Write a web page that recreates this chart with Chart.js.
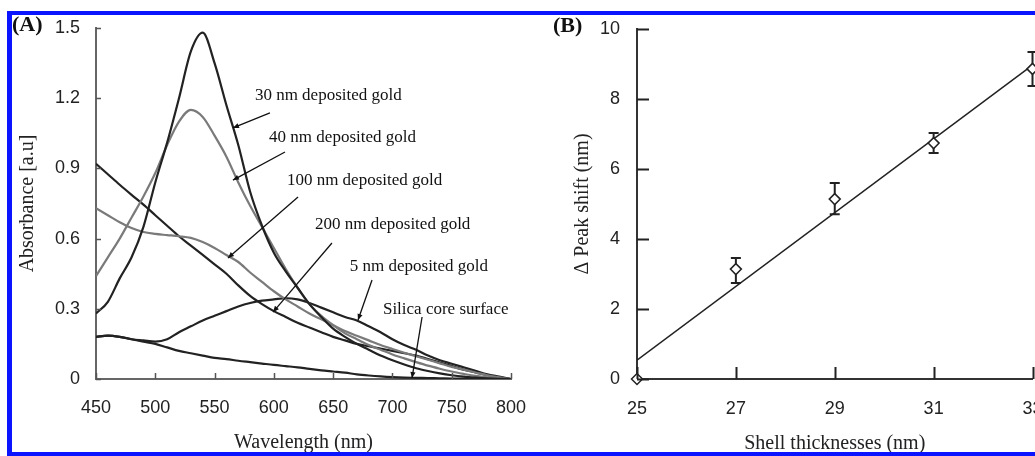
<!DOCTYPE html>
<html>
<head>
<meta charset="utf-8">
<script src="https://cdn.jsdelivr.net/npm/chart.js@4.4.1/dist/chart.umd.min.js"></script>
<style>
  html, body { margin: 0; padding: 0; width: 1035px; height: 456px; overflow: hidden; background: #fff; }
  #frame {
    position: absolute; left: 7px; top: 11px; width: 1200px; height: 445px;
    box-sizing: border-box; border: 4px solid #0a14ff; border-left-width: 5px; border-right: none;
    pointer-events: none; z-index: 5;
  }
  #chartA { position: absolute; left: 0; top: 0; }
  #chartB { position: absolute; left: 520px; top: 0; }
  .panel { position: absolute; font: bold 22px 'Liberation Serif'; line-height: 22px; color: #111; z-index: 6; }
</style>
</head>
<body>
<canvas id="chartA" width="560" height="456"></canvas>
<canvas id="chartB" width="545" height="456"></canvas>
<div id="frame"></div>
<div class="panel" style="left:12px; top:13px;">(A)</div>
<div class="panel" style="left:553px; top:14px;">(B)</div>
<script>
// --- DATA: panel A, absorbance spectra ---
const wavelengths = [450, 460, 470, 480, 490, 500, 510, 520, 530, 540, 550, 560, 570, 580, 590, 600, 610, 620,
  630, 640, 650, 660, 670, 680, 690, 700, 710, 720, 730, 740, 750, 760, 770, 780, 790, 800];

const gold30 = [0.28, 0.33, 0.43, 0.52, 0.65, 0.84, 1.01, 1.20, 1.40, 1.48, 1.35, 1.17, 1.00, 0.80, 0.655, 0.54,
  0.46, 0.39, 0.32, 0.265, 0.215, 0.18, 0.15, 0.125, 0.10, 0.08, 0.062, 0.046, 0.034, 0.024, 0.016, 0.01,
  0.006, 0.003, 0.001, 0];
const gold40 = [0.44, 0.52, 0.60, 0.69, 0.78, 0.88, 1.00, 1.10, 1.15, 1.12, 1.04, 0.95, 0.84, 0.74, 0.65, 0.56,
  0.47, 0.39, 0.32, 0.27, 0.23, 0.195, 0.17, 0.145, 0.125, 0.105, 0.088, 0.072, 0.057, 0.044, 0.032, 0.022,
  0.013, 0.007, 0.002, 0];
const gold100 = [0.73, 0.70, 0.67, 0.645, 0.628, 0.62, 0.615, 0.61, 0.603, 0.585, 0.56, 0.53, 0.50, 0.455, 0.415,
  0.375, 0.34, 0.31, 0.28, 0.255, 0.23, 0.205, 0.185, 0.165, 0.145, 0.128, 0.112, 0.097, 0.082, 0.067, 0.052,
  0.04, 0.028, 0.016, 0.007, 0];
const gold200 = [0.92, 0.875, 0.83, 0.787, 0.745, 0.70, 0.655, 0.61, 0.57, 0.53, 0.49, 0.45, 0.40, 0.355, 0.32,
  0.29, 0.265, 0.24, 0.22, 0.20, 0.18, 0.165, 0.15, 0.14, 0.13, 0.12, 0.11, 0.10, 0.085, 0.07, 0.055, 0.04,
  0.028, 0.016, 0.007, 0];
const gold5 = [0.18, 0.185, 0.18, 0.17, 0.165, 0.16, 0.17, 0.20, 0.225, 0.25, 0.27, 0.29, 0.31, 0.325, 0.335,
  0.34, 0.345, 0.34, 0.325, 0.305, 0.285, 0.265, 0.25, 0.225, 0.20, 0.17, 0.145, 0.125, 0.10, 0.08, 0.065,
  0.05, 0.035, 0.02, 0.01, 0];
const silica = [0.18, 0.185, 0.18, 0.17, 0.16, 0.15, 0.135, 0.12, 0.11, 0.10, 0.09, 0.085, 0.078, 0.072, 0.066,
  0.06, 0.055, 0.05, 0.043, 0.037, 0.032, 0.027, 0.02, 0.015, 0.011, 0.008, 0.006, 0.005, 0.004, 0.003, 0.002,
  0.002, 0.001, 0.001, 0, 0];

const ticksAX = [450, 500, 550, 600, 650, 700, 750, 800];
const ticksAY = [0, 0.3, 0.6, 0.9, 1.2, 1.5];
const labelsAY = ['0', '0.3', '0.6', '0.9', '1.2', '1.5'];

// callouts: text anchor [nm, absorbance], arrow start and arrow tip
const calloutText = ['30 nm deposited gold', '40 nm deposited gold', '100 nm deposited gold',
  '200 nm deposited gold', '5 nm deposited gold', 'Silica core surface'];
const calloutAt = [[584, 1.21], [596, 1.03], [611, 0.85], [634.7, 0.662], [664, 0.479], [692, 0.295]];
const arrowFrom = [[596.7, 1.137], [609.4, 0.97], [620.4, 0.778], [649, 0.581], [682.8, 0.423], [725, 0.265]];
const arrowTo = [[565.5, 1.073], [565.5, 0.85], [561.3, 0.517], [599.3, 0.286], [671, 0.252], [716.5, 0.004]];

// --- DATA: panel B, peak shift vs shell thickness ---
const shellThickness = [25, 27, 29, 31, 33];
const peakShift = [0, 3.14, 5.14, 6.74, 8.86];
const errLow = [0, 2.74, 4.71, 6.46, 8.37];
const errHigh = [0, 3.46, 5.6, 7.03, 9.34];
const fitX = [25, 33];
const fitY = [0.54, 8.97];
const ticksBX = [25, 27, 29, 31, 33];
const ticksBY = [0, 2, 4, 6, 8, 10];

const DARK = '#222';
const GREY = '#7a7a7a';
const SANS = "'Liberation Sans', Arial, sans-serif";
const SERIF = "'Liberation Serif', 'Times New Roman', serif";

// inward tick marks on both axes
const innerTicks = {
  id: 'innerTicks',
  afterDatasetsDraw(chart, args, opts) {
    const { ctx, chartArea, scales: { x, y } } = chart;
    ctx.save();
    ctx.strokeStyle = opts.color;
    ctx.lineWidth = opts.width;
    ctx.beginPath();
    x.ticks.forEach(t => {
      const px = Math.round(x.getPixelForValue(t.value)) + 0.5;
      ctx.moveTo(px, chartArea.bottom);
      ctx.lineTo(px, chartArea.bottom - opts.x);
    });
    y.ticks.forEach(t => {
      const py = Math.round(y.getPixelForValue(t.value)) + 0.5;
      ctx.moveTo(chartArea.left, py);
      ctx.lineTo(chartArea.left + opts.y, py);
    });
    ctx.stroke();
    ctx.restore();
  }
};

// labels with arrows pointing at each curve
const callouts = {
  id: 'callouts',
  afterDatasetsDraw(chart) {
    const { ctx, scales: { x, y } } = chart;
    ctx.save();
    ctx.font = '17px ' + SERIF;
    ctx.fillStyle = '#111';
    ctx.strokeStyle = '#111';
    ctx.textAlign = 'left';
    ctx.textBaseline = 'middle';
    calloutText.forEach((txt, i) => {
      ctx.fillText(txt, x.getPixelForValue(calloutAt[i][0]), y.getPixelForValue(calloutAt[i][1]));
      const x0 = x.getPixelForValue(arrowFrom[i][0]), y0 = y.getPixelForValue(arrowFrom[i][1]);
      const x1 = x.getPixelForValue(arrowTo[i][0]), y1 = y.getPixelForValue(arrowTo[i][1]);
      ctx.lineWidth = 1.3;
      ctx.beginPath();
      ctx.moveTo(x0, y0);
      ctx.lineTo(x1, y1);
      ctx.stroke();
      const a = Math.atan2(y1 - y0, x1 - x0), L = 6, W = 2.6;
      ctx.beginPath();
      ctx.moveTo(x1, y1);
      ctx.lineTo(x1 - L * Math.cos(a) + W * Math.sin(a), y1 - L * Math.sin(a) - W * Math.cos(a));
      ctx.lineTo(x1 - L * Math.cos(a) - W * Math.sin(a), y1 - L * Math.sin(a) + W * Math.cos(a));
      ctx.closePath();
      ctx.fill();
    });
    ctx.restore();
  }
};

// vertical error bars with caps
const errorBars = {
  id: 'errorBars',
  beforeDatasetsDraw(chart) {
    const { ctx, scales: { x, y } } = chart;
    ctx.save();
    ctx.strokeStyle = DARK;
    ctx.lineWidth = 2;
    shellThickness.forEach((t, i) => {
      if (errHigh[i] === errLow[i]) return;
      const px = x.getPixelForValue(t);
      const top = y.getPixelForValue(errHigh[i]);
      const bot = y.getPixelForValue(errLow[i]);
      ctx.beginPath();
      ctx.moveTo(px, top); ctx.lineTo(px, bot);
      ctx.moveTo(px - 5, top); ctx.lineTo(px + 5, top);
      ctx.moveTo(px - 5, bot); ctx.lineTo(px + 5, bot);
      ctx.stroke();
    });
    ctx.restore();
  }
};

const toXY = (xs, ys) => xs.map((v, i) => ({ x: v, y: ys[i] }));

const spectrum = (vals, color) => ({
  data: toXY(wavelengths, vals),
  borderColor: color,
  borderWidth: 2.2,
  pointRadius: 0,
  cubicInterpolationMode: 'monotone',
  fill: false
});

new Chart(document.getElementById('chartA'), {
  type: 'line',
  data: {
    datasets: [
      spectrum(gold30, DARK),
      spectrum(gold40, GREY),
      spectrum(gold100, GREY),
      spectrum(gold200, DARK),
      spectrum(gold5, DARK),
      spectrum(silica, DARK)
    ]
  },
  plugins: [innerTicks, callouts],
  options: {
    responsive: false,
    animation: false,
    layout: { padding: { left: 0, top: 28, right: 49, bottom: 0 } },
    plugins: {
      legend: { display: false },
      tooltip: { enabled: false },
      innerTicks: { x: 6, y: 5, color: '#555', width: 1.5 }
    },
    scales: {
      x: {
        type: 'linear', min: 450, max: 800,
        afterBuildTicks: s => { s.ticks = ticksAX.map(v => ({ value: v })); },
        afterFit: s => { s.height = 77; },
        grid: { display: false, drawTicks: false },
        border: { color: '#666', width: 2 },
        ticks: { font: { family: SANS, size: 18 }, color: DARK, padding: 18, maxRotation: 0,
                 callback: v => String(v) },
        title: { display: true, text: 'Wavelength (nm)', font: { family: SERIF, size: 20 }, color: DARK,
                 padding: { top: 0, bottom: 1 } }
      },
      y: {
        type: 'linear', min: 0, max: 1.5,
        afterBuildTicks: s => { s.ticks = ticksAY.map(v => ({ value: v })); },
        afterFit: s => { s.width = 96; },
        grid: { display: false, drawTicks: false },
        border: { color: '#666', width: 2 },
        ticks: { font: { family: SANS, size: 18 }, color: DARK, padding: 16,
                 callback: (v, i) => labelsAY[i] },
        title: { display: true, text: 'Absorbance [a.u]', font: { family: SERIF, size: 20 }, color: DARK,
                 padding: { top: 16, bottom: 0 } }
      }
    }
  }
});

new Chart(document.getElementById('chartB'), {
  type: 'scatter',
  data: {
    datasets: [
      {
        data: toXY(shellThickness, peakShift),
        pointStyle: 'rectRot',
        pointRadius: 5.5,
        pointBorderWidth: 1.5,
        pointBorderColor: DARK,
        pointBackgroundColor: '#fff',
        showLine: false,
        clip: false
      },
      {
        data: toXY(fitX, fitY),
        showLine: true,
        borderColor: DARK,
        borderWidth: 1.5,
        pointRadius: 0
      }
    ]
  },
  plugins: [innerTicks, errorBars],
  options: {
    responsive: false,
    animation: false,
    layout: { padding: { left: 0, top: 29, right: 32.5, bottom: 0 } },
    plugins: {
      legend: { display: false },
      tooltip: { enabled: false },
      innerTicks: { x: 12, y: 12, color: DARK, width: 2 }
    },
    scales: {
      x: {
        type: 'linear', min: 25, max: 33,
        afterBuildTicks: s => { s.ticks = ticksBX.map(v => ({ value: v })); },
        afterFit: s => { s.height = 77; },
        grid: { display: false, drawTicks: false },
        border: { color: '#333', width: 2 },
        ticks: { font: { family: SANS, size: 18 }, color: DARK, padding: 19, maxRotation: 0,
                 callback: v => String(v) },
        title: { display: true, text: 'Shell thicknesses (nm)', font: { family: SERIF, size: 20 }, color: DARK,
                 padding: { top: 0, bottom: 0 } }
      },
      y: {
        type: 'linear', min: 0, max: 10,
        afterBuildTicks: s => { s.ticks = ticksBY.map(v => ({ value: v })); },
        afterFit: s => { s.width = 117; },
        grid: { display: false, drawTicks: false },
        border: { color: '#333', width: 2 },
        ticks: { font: { family: SANS, size: 18 }, color: DARK, padding: 17,
                 callback: v => String(v) },
        title: { display: true, text: 'Δ Peak shift (nm)', font: { family: SERIF, size: 20 }, color: DARK,
                 padding: { top: 51, bottom: 0 } }
      }
    }
  }
});
</script>
</body>
</html>
